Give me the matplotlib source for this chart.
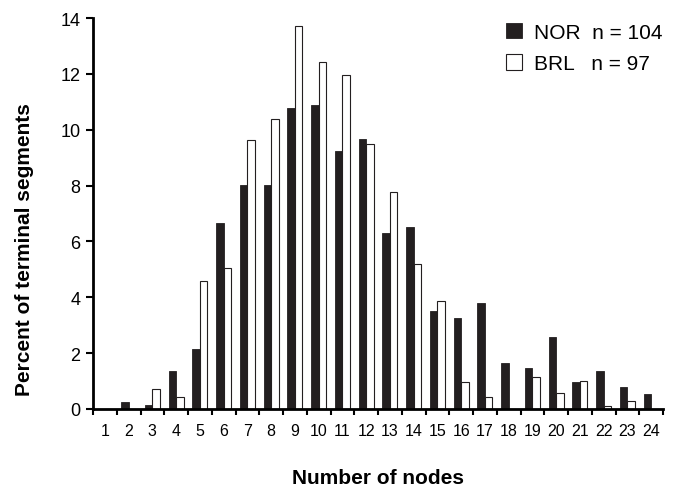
import numpy as np
import matplotlib.pyplot as plt

plt.rcParams['font.family'] = ['Liberation Sans', 'DejaVu Sans']

# data
nodes = list(range(1, 25))
nor = [0, 0.24, 0.14, 1.36, 2.16, 6.65, 8.02, 8.02, 10.78, 10.88, 9.25, 9.65,
       6.29, 6.53, 3.52, 3.27, 3.79, 1.64, 1.47, 2.58, 0.95, 1.36, 0.79, 0.53]
brl = [0, 0, 0.70, 0.43, 4.59, 5.04, 9.64, 10.39, 13.70, 12.43, 11.97, 9.50,
       7.78, 5.19, 3.88, 0.98, 0.42, 0, 1.13, 0.56, 0.99, 0.12, 0.27, 0]
nor_label = 'NOR  n = 104'
brl_label = 'BRL   n = 97'

fig = plt.figure(figsize=(6.74, 4.89), dpi=100)
ax = fig.add_axes([93/674, 1 - 410/489, (663-93)/674, (410-19)/489])

x = np.array(nodes)
w = 0.32
b1 = ax.bar(x - w/2, nor, w, color='#231f20', edgecolor='#231f20', linewidth=0.6, label=nor_label)
b2 = ax.bar(x + w/2, brl, w, color='white', edgecolor='#231f20', linewidth=0.8, label=brl_label)

ax.set_xlim(0.5, 24.5)
ax.set_ylim(0, 14)
ax.set_yticks(np.arange(0, 15, 2))
ax.set_xticks(x)
ax.set_xticks(np.arange(0.5, 25, 1), minor=True)
ax.tick_params(axis='x', which='major', length=0, pad=10, labelsize=11.5)
ax.tick_params(axis='x', which='minor', length=4, width=1.5, direction='out')
ax.tick_params(axis='y', length=5, width=1.5, labelsize=13, pad=4)

for s in ['top', 'right']:
    ax.spines[s].set_visible(False)
for s in ['left', 'bottom']:
    ax.spines[s].set_linewidth(2)

ax.set_xlabel('Number of nodes', fontsize=15, fontweight='bold', labelpad=22)
ax.set_ylabel('Percent of terminal segments', fontsize=15, fontweight='bold')
ax.yaxis.set_label_coords(-0.103, 0.41)

ax.legend(handles=[b1, b2], loc='upper right', bbox_to_anchor=(1.025, 1.025), frameon=False,
          fontsize=15, handlelength=0.75, handleheight=0.75, handletextpad=0.6,
          labelspacing=0.6, borderpad=0.2)

fig.savefig('out.png', dpi=100)
